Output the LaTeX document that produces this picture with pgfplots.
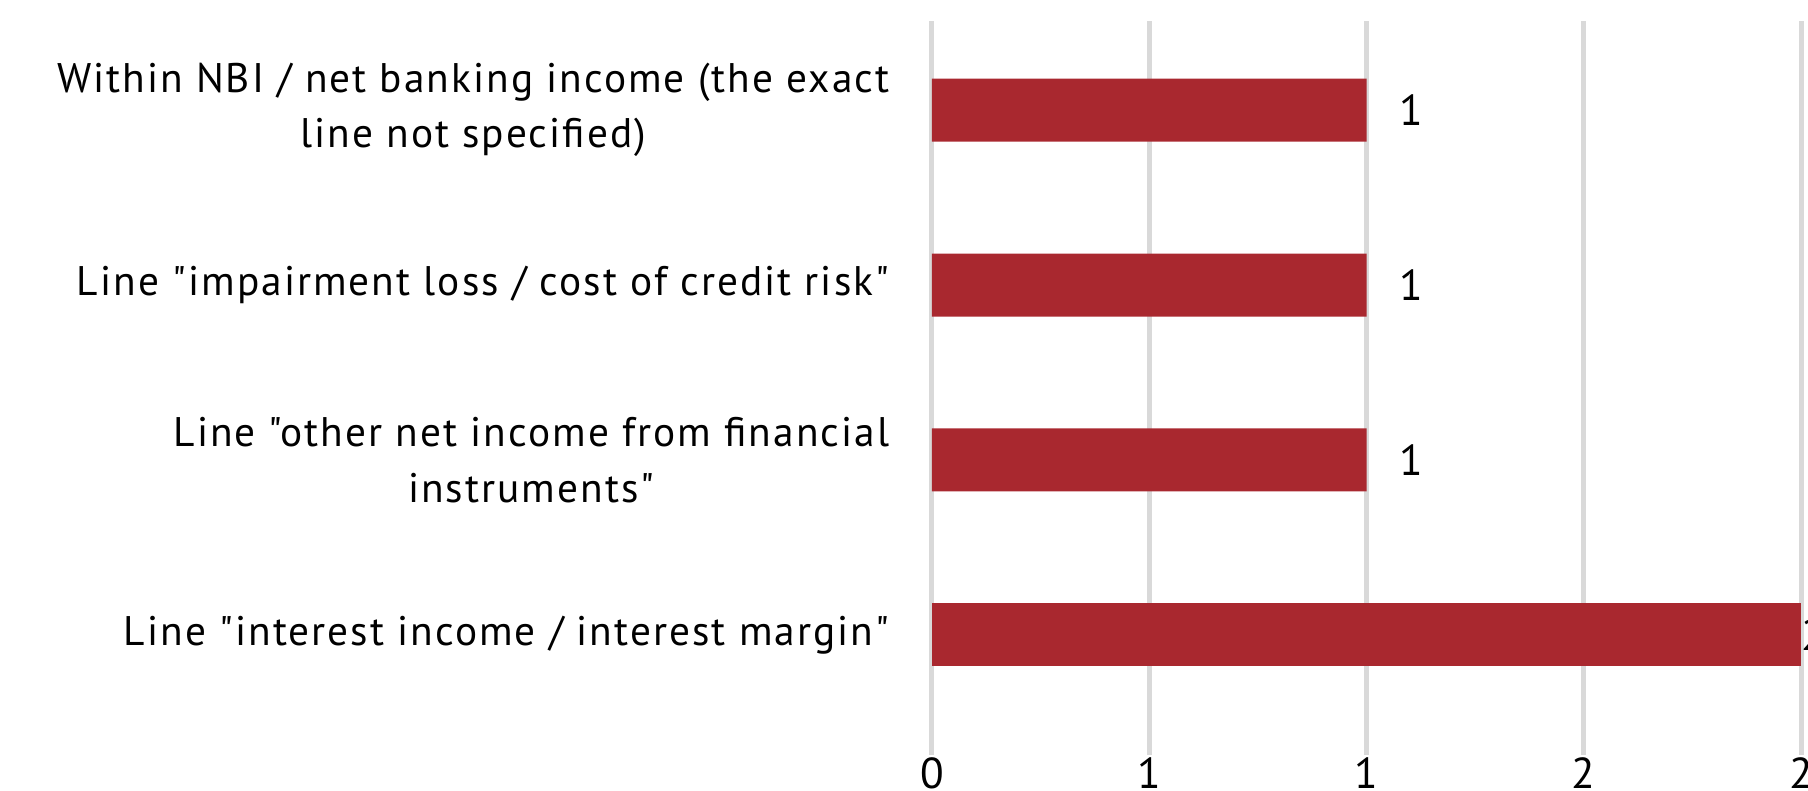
\documentclass[border=0pt]{standalone}
\usepackage{fontspec}
\setmainfont{PT Sans}[LetterSpace=5, Ligatures=TeXOff]
\usepackage{pgfplots}
\pgfplotsset{compat=1.18}
\definecolor{barred}{HTML}{A9282F}
\definecolor{gridgray}{HTML}{D9D9D9}
\begin{document}
\begin{tikzpicture}
\begin{axis}[
  at={(0,0)}, anchor=south west,
  scale only axis, width=260.7pt, height=220.2pt,
  xbar, bar width=18.9pt, bar shift=0pt,
  xmin=0, xmax=2, ymin=-0.686, ymax=3.509,
  ytick={0,1,2,3},
  yticklabels={{Line "interest income / interest margin"},{Line "other net income from financial\\instruments"},{Line "impairment loss / cost of credit risk"},{Within NBI / net banking income (the exact\\line not specified)}},
  xtick={0,0.5,1,1.5,2}, xticklabels={0,1,1,2,2},
  /pgf/number format/assume math mode=true,
  axis line style={draw=none}, major tick length=0pt,
  xmajorgrids, grid style={gridgray, line width=1.5pt},
  tick label style={font=\fontsize{13}{16}\selectfont},
  yticklabel style={align=center, font=\fontsize{12.4}{16.6}\selectfont, inner sep=0pt, xshift=-12.6pt},
  xticklabel style={anchor=north, inner sep=0pt, yshift=-0.6pt},
  nodes near coords, point meta=x,
  nodes near coords style={anchor=west, inner sep=0pt, font=\fontsize{13}{16}\selectfont, black},
]
\addplot[fill=barred, draw=none, nodes near coords style={xshift=9.6pt}] coordinates {(1,1) (1,2) (1,3)};
\addplot[fill=barred, draw=none, nodes near coords style={xshift=0pt}] coordinates {(2,0)};
\end{axis}
\pgfresetboundingbox
\path[use as bounding box] (-279.6pt,-10.8pt) rectangle (262.8pt,226.5pt);
\end{tikzpicture}
\end{document}
